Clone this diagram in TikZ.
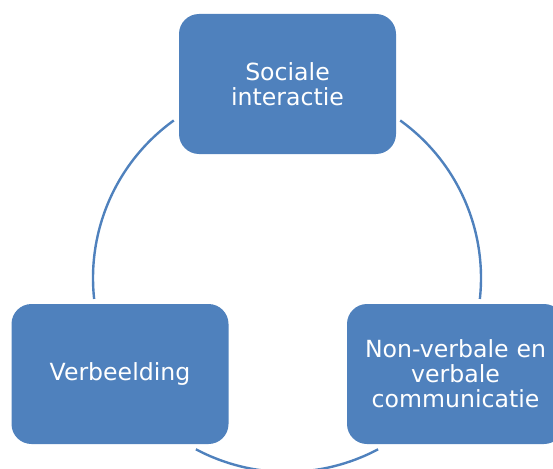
\documentclass[tikz,border=0pt]{standalone}
\usepackage{fontspec}
\setmainfont{DejaVu Sans}
\usetikzlibrary{calc}
\definecolor{accent}{HTML}{4F81BD}
\begin{document}
\begin{tikzpicture}[x=1pt,y=-1pt,
  stagebox/.style={fill=accent, draw=none, rounded corners=20pt,
    minimum width=217pt, minimum height=140pt, inner sep=0pt,
    text=white, align=center, text width=214pt,
    font=\fontsize{23.6}{25}\selectfont},
  cyclearc/.style={draw=accent, line width=2.4pt}]
  \useasboundingbox (0,0) rectangle (553,468);
  \begin{scope}
    \clip (0,0) rectangle (553,468);
    \coordinate (c) at (287,278);
    \node[stagebox] (soc) at (287.5,84) {Sociale\\interactie};
    \node[stagebox] (verb) at (120,374) {Verbeelding};
    \node[stagebox] (comm) at (455.5,374) {Non-verbale en\\verbale\\communicatie};
    % arcs of the cycle between the stages
    \draw[cyclearc] ($(c)+(-54.3:194)$) arc[start angle=-54.3, end angle=6.2, radius=194];
    \draw[cyclearc] ($(c)+(62:194)$) arc[start angle=62, end angle=118, radius=194];
    \draw[cyclearc] ($(c)+(173.8:194)$) arc[start angle=173.8, end angle=234.3, radius=194];
  \end{scope}
\end{tikzpicture}
\end{document}
